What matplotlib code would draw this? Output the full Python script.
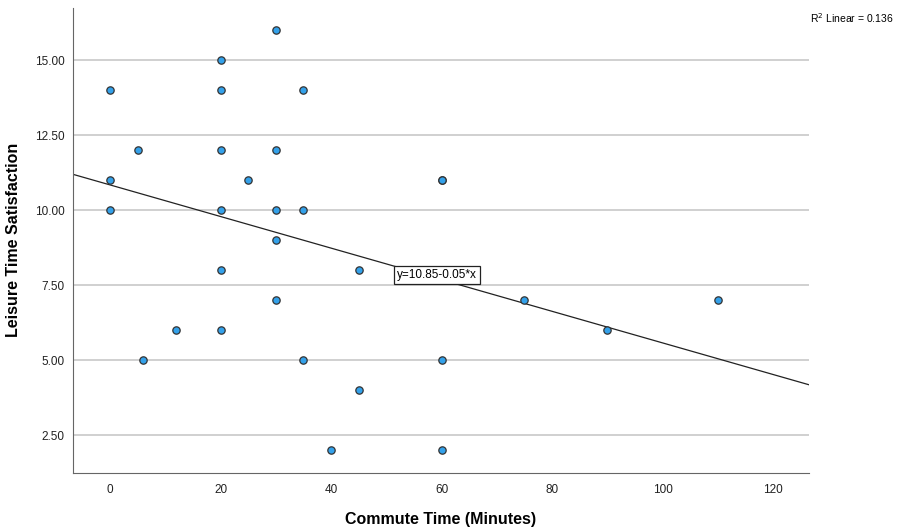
import numpy as np
import matplotlib.pyplot as plt

plt.rcParams['font.family'] = ['Liberation Sans', 'DejaVu Sans']

# commute time (minutes) and leisure satisfaction scores
# (60, 11) appears twice - the marker is drawn over itself
commute = [0, 0, 0, 5, 6, 12,
           20, 20, 20, 20, 20, 20, 25,
           30, 30, 30, 30, 30, 35, 35, 35,
           40, 45, 45, 60, 60, 60, 60, 75, 90, 110]
leisure = [14, 11, 10, 12, 5, 6,
           15, 14, 12, 10, 8, 6, 11,
           16, 12, 10, 9, 7, 14, 10, 5,
           2, 8, 4, 11, 11, 5, 2, 7, 6, 7]
yticks = [2.5, 5.0, 7.5, 10.0, 12.5, 15.0]
xticks = [0, 20, 40, 60, 80, 100, 120]

x = np.array(commute, dtype=float)
y = np.array(leisure, dtype=float)

fig = plt.figure(figsize=(9.01, 5.27), dpi=100)
ax = fig.add_axes([0.081, 0.103, 0.817, 0.882])

xlim = (-6.7, 126.5)
ax.set_xlim(xlim)
ax.set_ylim(1.25, 16.75)

# grid lines like SPSS
ax.set_yticks(yticks)
ax.set_yticklabels([f"{v:.2f}" for v in yticks])
ax.set_xticks(xticks)
ax.yaxis.grid(True, color='#c8c8c8', lw=1.2, zorder=0)
ax.set_axisbelow(True)

ax.scatter(x, y, s=28, color='#33a1ea', edgecolor='#333333', linewidth=0.9, zorder=3)

# fit line
slope, icpt = np.polyfit(x, y, 1)
r2 = np.corrcoef(x, y)[0, 1] ** 2
xs = np.array(xlim)
ax.plot(xs, icpt + slope * xs, color='#222222', lw=0.9, zorder=2)

ax.text(52, 7.83, f"y={icpt:.2f}-{abs(slope):.2f}*x", fontsize=8.5, ha='left', va='center', zorder=4,
        bbox=dict(boxstyle='square,pad=0.25', fc='white', ec='#222222', lw=0.9))

for s in ['top', 'right']:
    ax.spines[s].set_visible(False)
for s in ['left', 'bottom']:
    ax.spines[s].set_color('#666666')
ax.tick_params(axis='y', length=0, labelsize=8.5, pad=6, colors='#222222')
ax.tick_params(axis='x', length=0, labelsize=8.5, pad=8, colors='#222222')

ax.set_xlabel("Commute Time (Minutes)", fontsize=11.5, fontweight='bold', labelpad=12)
ax.set_ylabel("Leisure Time Satisfaction", fontsize=11.5, fontweight='bold', labelpad=10)

fig.text(0.992, 0.965, f"R$^2$ Linear = {r2:.3f}", fontsize=7.5, ha='right', va='center')

fig.savefig("out.png", dpi=100)
